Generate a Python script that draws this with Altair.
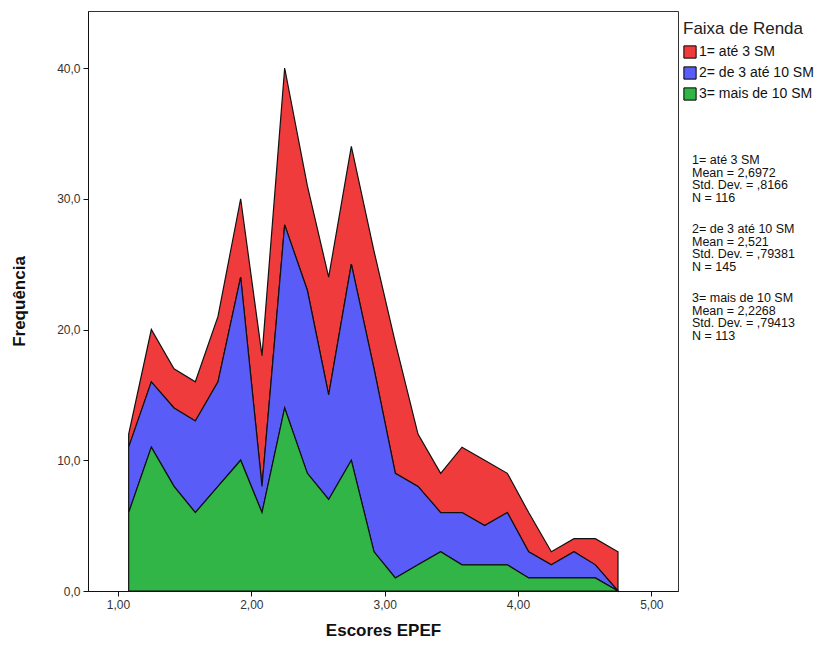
import altair as alt
import pandas as pd

# Bin centres of "Escores EPEF"
scores = [1.08, 1.25, 1.42, 1.58, 1.75, 1.92, 2.08, 2.25, 2.42, 2.58, 2.75, 2.92,
          3.08, 3.25, 3.42, 3.58, 3.75, 3.92, 4.08, 4.25, 4.42, 4.58, 4.75]

series_labels = ["1= até 3 SM", "2= de 3 até 10 SM", "3= mais de 10 SM"]
series_colors = ["#EF3B3C", "#5A5CF7", "#31B547"]

# Frequencies per bin (stacked: green bottom, blue middle, red top)
red_counts   = [1, 4, 3, 3, 5, 6, 10, 12, 8, 9, 9, 9, 10, 4, 3, 5, 5, 3, 3, 1, 1, 2, 3]
blue_counts  = [5, 5, 6, 7, 8, 14, 2, 14, 14, 8, 15, 14, 8, 6, 3, 4, 3, 4, 2, 1, 2, 1, 0]
green_counts = [6, 11, 8, 6, 8, 10, 6, 14, 9, 7, 10, 3, 1, 2, 3, 2, 2, 2, 1, 1, 1, 1, 0]

stat_means = ["2,6972", "2,521", "2,2268"]
stat_sds = [",8166", ",79381", ",79413"]
stat_ns = ["116", "145", "113"]

rows = []
for lab, vals, order in zip(series_labels, [red_counts, blue_counts, green_counts], [2, 1, 0]):
    for s, v in zip(scores, vals):
        rows.append({"score": s, "count": v, "faixa": lab, "ord": order})
df = pd.DataFrame(rows)

FONT = "Liberation Sans"

area = alt.Chart(df).mark_area(
    stroke="#111", strokeWidth=1.2, opacity=1, interpolate="linear", strokeJoin="miter"
).encode(
    x=alt.X("score:Q",
            scale=alt.Scale(domain=[0.775, 5.2], nice=False, zero=False),
            axis=alt.Axis(values=[1, 2, 3, 4, 5],
                          labelExpr="replace(format(datum.value, '.2f'), '.', ',')",
                          title="Escores EPEF", grid=False, tickSize=5,
                          titlePadding=12)),
    y=alt.Y("count:Q", stack="zero",
            scale=alt.Scale(domain=[0, 44.36], nice=False),
            axis=alt.Axis(values=[0, 10, 20, 30, 40],
                          labelExpr="replace(format(datum.value, '.1f'), '.', ',')",
                          title="Frequência", grid=False, tickSize=5,
                          titlePadding=28)),
    color=alt.Color("faixa:N",
                    scale=alt.Scale(domain=series_labels, range=series_colors),
                    legend=alt.Legend(title="Faixa de Renda", orient="none",
                                      legendX=595, legendY=10,
                                      symbolType="square", symbolSize=150,
                                      symbolStrokeColor="black", symbolStrokeWidth=1,
                                      symbolOpacity=1,
                                      titleFontSize=17, titleFontWeight="normal",
                                      titleColor="#222", titleFont=FONT,
                                      labelFontSize=14, labelFont=FONT, labelColor="#111",
                                      rowPadding=3, titlePadding=7, labelOffset=2)),
    order=alt.Order("ord:Q", sort="ascending"),
)

layers = [area]
block_tops = [149, 218, 287]
for i in range(3):
    txt = "\n".join([series_labels[i], "Mean = " + stat_means[i],
                     "Std. Dev. = " + stat_sds[i], "N = " + stat_ns[i]])
    layers.append(
        alt.Chart(pd.DataFrame({"t": [txt]})).mark_text(
            align="left", baseline="middle", font=FONT, fontSize=12.5,
            lineHeight=12.5, lineBreak="\n", color="#111"
        ).encode(x=alt.value(604), y=alt.value(block_tops[i]), text="t:N")
    )

chart = alt.layer(*layers).properties(
    width=590, height=580,
    autosize=alt.AutoSizeParams(type="none"),
    padding={"left": 88, "top": 11, "right": 151, "bottom": 59},
    background="white",
).configure_view(
    stroke="#333", strokeWidth=1
).configure_axis(
    domainColor="#111", tickColor="#111", labelColor="#333",
    labelFont=FONT, labelFontSize=12, titleFont=FONT, titleFontSize=17,
    titleFontWeight="bold", titleColor="#111", labelPadding=3
)

chart.save("out.html", embed_options={"renderer": "svg", "actions": False})
